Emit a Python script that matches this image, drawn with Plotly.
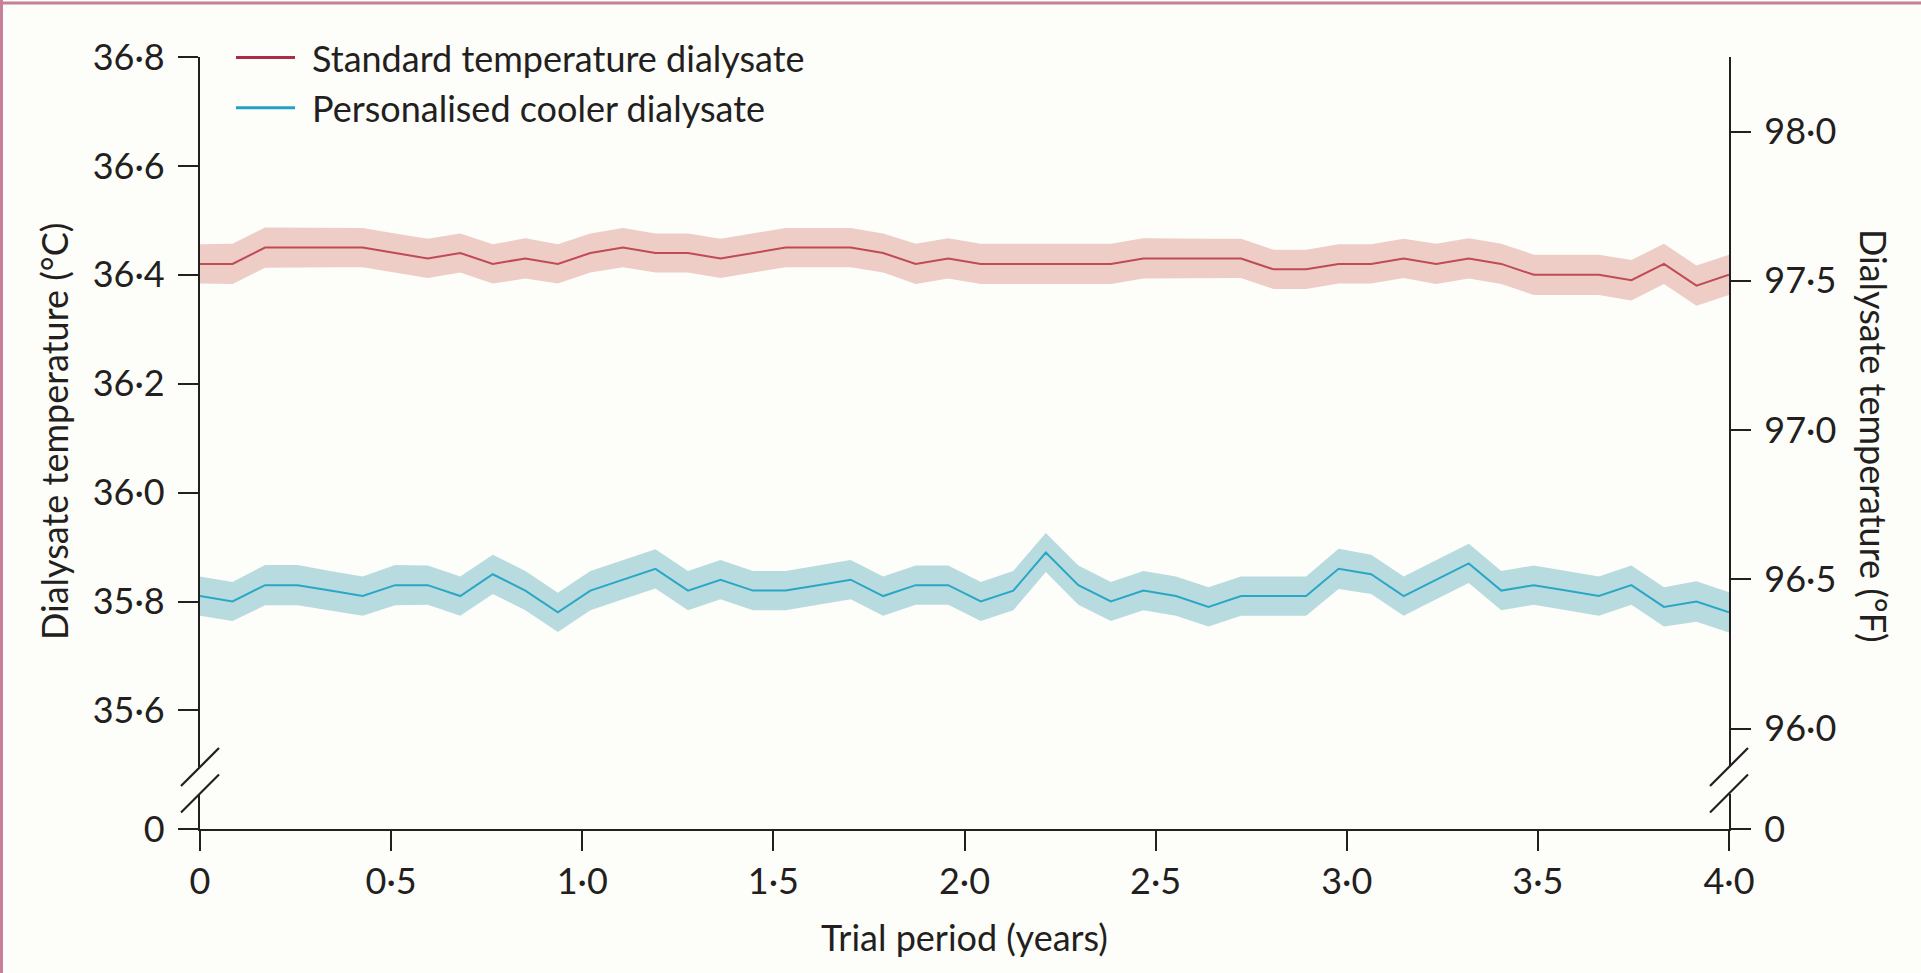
import plotly.graph_objects as go

# ---- data -------------------------------------------------------------
# 48 consecutive reporting periods spread across the 4-year trial
n_periods = 48
trial_years = [4.0 * i / (n_periods - 1) for i in range(n_periods)]

# mean dialysate temperature (°C) and 95% CI half-width, standard arm
standard_mean = [
    36.42, 36.42, 36.45, 36.45, 36.45, 36.45, 36.44, 36.43, 36.44, 36.42,
    36.43, 36.42, 36.44, 36.45, 36.44, 36.44, 36.43, 36.44, 36.45, 36.45,
    36.45, 36.44, 36.42, 36.43, 36.42, 36.42, 36.42, 36.42, 36.42, 36.43,
    36.43, 36.43, 36.43, 36.41, 36.41, 36.42, 36.42, 36.43, 36.42, 36.43,
    36.42, 36.40, 36.40, 36.40, 36.39, 36.42, 36.38, 36.40,
]
standard_ci = [
    0.036, 0.037, 0.037, 0.037, 0.036, 0.036, 0.036, 0.036, 0.036, 0.036,
    0.037, 0.036, 0.036, 0.036, 0.036, 0.036, 0.036, 0.036, 0.036, 0.036,
    0.036, 0.036, 0.037, 0.037, 0.037, 0.037, 0.037, 0.037, 0.037, 0.037,
    0.036, 0.036, 0.036, 0.036, 0.036, 0.036, 0.036, 0.036, 0.037, 0.037,
    0.037, 0.037, 0.037, 0.037, 0.037, 0.037, 0.037, 0.037,
]

# mean dialysate temperature (°C) and 95% CI half-width, cooler arm
cooler_mean = [
    35.81, 35.80, 35.83, 35.83, 35.82, 35.81, 35.83, 35.83, 35.81, 35.85,
    35.82, 35.78, 35.82, 35.84, 35.86, 35.82, 35.84, 35.82, 35.82, 35.83,
    35.84, 35.81, 35.83, 35.83, 35.80, 35.82, 35.89, 35.83, 35.80, 35.82,
    35.81, 35.79, 35.81, 35.81, 35.81, 35.86, 35.85, 35.81, 35.84, 35.87,
    35.82, 35.83, 35.82, 35.81, 35.83, 35.79, 35.80, 35.78,
]
cooler_ci = [
    0.036, 0.036, 0.037, 0.037, 0.036, 0.036, 0.037, 0.036, 0.036, 0.036,
    0.036, 0.036, 0.036, 0.036, 0.036, 0.036, 0.036, 0.036, 0.036, 0.036,
    0.036, 0.036, 0.036, 0.036, 0.036, 0.036, 0.036, 0.036, 0.036, 0.036,
    0.036, 0.036, 0.036, 0.036, 0.036, 0.037, 0.036, 0.036, 0.036, 0.036,
    0.036, 0.036, 0.036, 0.036, 0.036, 0.036, 0.037, 0.037,
]

series_names = ["Standard temperature dialysate", "Personalised cooler dialysate"]

x_ticks = [0, 0.5, 1.0, 1.5, 2.0, 2.5, 3.0, 3.5, 4.0]
x_tick_text = ["0", "0·5", "1·0", "1·5", "2·0", "2·5", "3·0", "3·5", "4·0"]
c_ticks = [35.6, 35.8, 36.0, 36.2, 36.4, 36.6, 36.8]
c_tick_text = ["35·6", "35·8", "36·0", "36·2", "36·4", "36·6", "36·8"]
f_ticks = [96.0, 96.5, 97.0, 97.5, 98.0]
f_tick_text = ["96·0", "96·5", "97·0", "97·5", "98·0"]

# ---- styling ----------------------------------------------------------
W, H = 1921, 973
L, R, T, B = 200, 192, 57, 144
INK = "#231f20"
BG = "#fdfdf9"
FONT = "Lato"
FS = 36

RED_LINE, RED_BAND, RED_KEY = "#c04a55", "#edcdc6", "#b02a45"
BLUE_LINE, BLUE_BAND, BLUE_KEY = "#2aa7c5", "#b8dbe0", "#1ea4c6"


def px(x):
    """Horizontal pixel position -> paper coordinate."""
    return (x - L) / (W - L - R)


def py(y):
    """Vertical pixel position (from top) -> paper coordinate."""
    return (H - B - y) / (H - T - B)


# broken y axis: upper panel carries the temperatures, lower stub shows 0
upper_bottom_px = 767
lower_top_px = 794
c_per_px = 1 / 544.5
c_range = [36.8 - (upper_bottom_px - T) * c_per_px, 36.8]
f_per_px = 1 / 298.6
f_range = [96.0 - (upper_bottom_px - 728.7) * f_per_px, 98.0 + (131.5 - T) * f_per_px]


def band(mean, ci, color):
    upper = [m + c for m, c in zip(mean, ci)]
    lower = [m - c for m, c in zip(mean, ci)]
    return go.Scatter(
        x=trial_years + trial_years[::-1], y=upper + lower[::-1],
        fill="toself", fillcolor=color, mode="lines", line=dict(width=0),
        hoverinfo="skip", showlegend=False, xaxis="x", yaxis="y2",
    )


fig = go.Figure()
fig.add_trace(band(standard_mean, standard_ci, RED_BAND))
fig.add_trace(band(cooler_mean, cooler_ci, BLUE_BAND))
fig.add_trace(go.Scatter(x=trial_years, y=standard_mean, mode="lines",
                         line=dict(color=RED_LINE, width=2), name=series_names[0],
                         showlegend=False, xaxis="x", yaxis="y2"))
fig.add_trace(go.Scatter(x=trial_years, y=cooler_mean, mode="lines",
                         line=dict(color=BLUE_LINE, width=2), name=series_names[1],
                         showlegend=False, xaxis="x", yaxis="y2"))
# empty placeholders so the °F axis and the zero stubs get their own subplots
for ax in ("y", "y3", "y4"):
    fig.add_trace(go.Scatter(x=[None], y=[None], mode="lines", showlegend=False,
                             hoverinfo="skip", xaxis="x", yaxis=ax))

axis_common = dict(
    showline=True, linecolor=INK, linewidth=2.2, showgrid=False, zeroline=False,
    ticks="outside", ticklen=20, tickwidth=2, tickcolor=INK,
    tickfont=dict(family=FONT, size=FS, color=INK), fixedrange=True,
    automargin=False,
)

lower_domain = [0, py(lower_top_px)]
upper_domain = [py(upper_bottom_px), 1]

fig.update_layout(
    width=W, height=H, template="none",
    paper_bgcolor=BG, plot_bgcolor=BG,
    margin=dict(l=L, r=R, t=T, b=B, pad=0),
    showlegend=False,
    font=dict(family=FONT, size=FS, color=INK),
    xaxis=dict(axis_common, domain=[0, 1], anchor="y", range=[0, 4.0],
               tickvals=x_ticks, ticktext=x_tick_text),
    yaxis=dict(axis_common, domain=lower_domain, anchor="x", range=[0, 1],
               tickvals=[0], ticktext=["0"], ticklabelstandoff=6),
    yaxis4=dict(axis_common, overlaying="y", side="right", anchor="x", range=[0, 1],
                tickvals=[0], ticktext=["0"], ticklabelstandoff=6),
    yaxis2=dict(axis_common, domain=upper_domain, anchor="x", range=c_range,
                tickvals=c_ticks, ticktext=c_tick_text, ticklabelstandoff=6),
    yaxis3=dict(axis_common, overlaying="y2", side="right", anchor="x", range=f_range,
                tickvals=f_ticks, ticktext=f_tick_text, ticklabelstandoff=6),
)

shapes = []
# axis-break slashes on both vertical axes
for ax_px in (L, W - R):
    for cy in (upper_bottom_px, lower_top_px - 0.5):
        shapes.append(dict(type="line", xref="paper", yref="paper",
                           x0=px(ax_px - 19), y0=py(cy + 19),
                           x1=px(ax_px + 19), y1=py(cy - 19),
                           line=dict(color=INK, width=2.2)))
# legend keys
for key_y, col in ((57.6, RED_KEY), (107.8, BLUE_KEY)):
    shapes.append(dict(type="line", xref="paper", yref="paper",
                       x0=px(236), x1=px(295), y0=py(key_y), y1=py(key_y),
                       line=dict(color=col, width=3)))
# page frame (top and left rules)
shapes.append(dict(type="line", xref="paper", yref="paper",
                   x0=px(0), x1=px(W), y0=py(3), y1=py(3),
                   line=dict(color="#c7809a", width=3)))
shapes.append(dict(type="line", xref="paper", yref="paper",
                   x0=px(1.5), x1=px(1.5), y0=py(0), y1=py(H),
                   line=dict(color="#c7809a", width=3)))
fig.update_layout(shapes=shapes)

text_font = dict(family=FONT, size=FS, color=INK)
annotations = [
    dict(text=series_names[0], x=px(310), y=py(57.6), xanchor="left", yanchor="middle"),
    dict(text=series_names[1], x=px(310), y=py(107.8), xanchor="left", yanchor="middle"),
    dict(text="Dialysate temperature (°C)", x=px(54), y=py(432), textangle=-90,
         xanchor="center", yanchor="middle"),
    dict(text="Dialysate temperature (°F)", x=px(1874), y=py(436), textangle=90,
         xanchor="center", yanchor="middle"),
    dict(text="Trial period (years)", x=px(964), y=py(937),
         xanchor="center", yanchor="middle"),
]
for a in annotations:
    a.update(xref="paper", yref="paper", showarrow=False, font=text_font)
fig.update_layout(annotations=annotations)

fig.write_html("out.html")
